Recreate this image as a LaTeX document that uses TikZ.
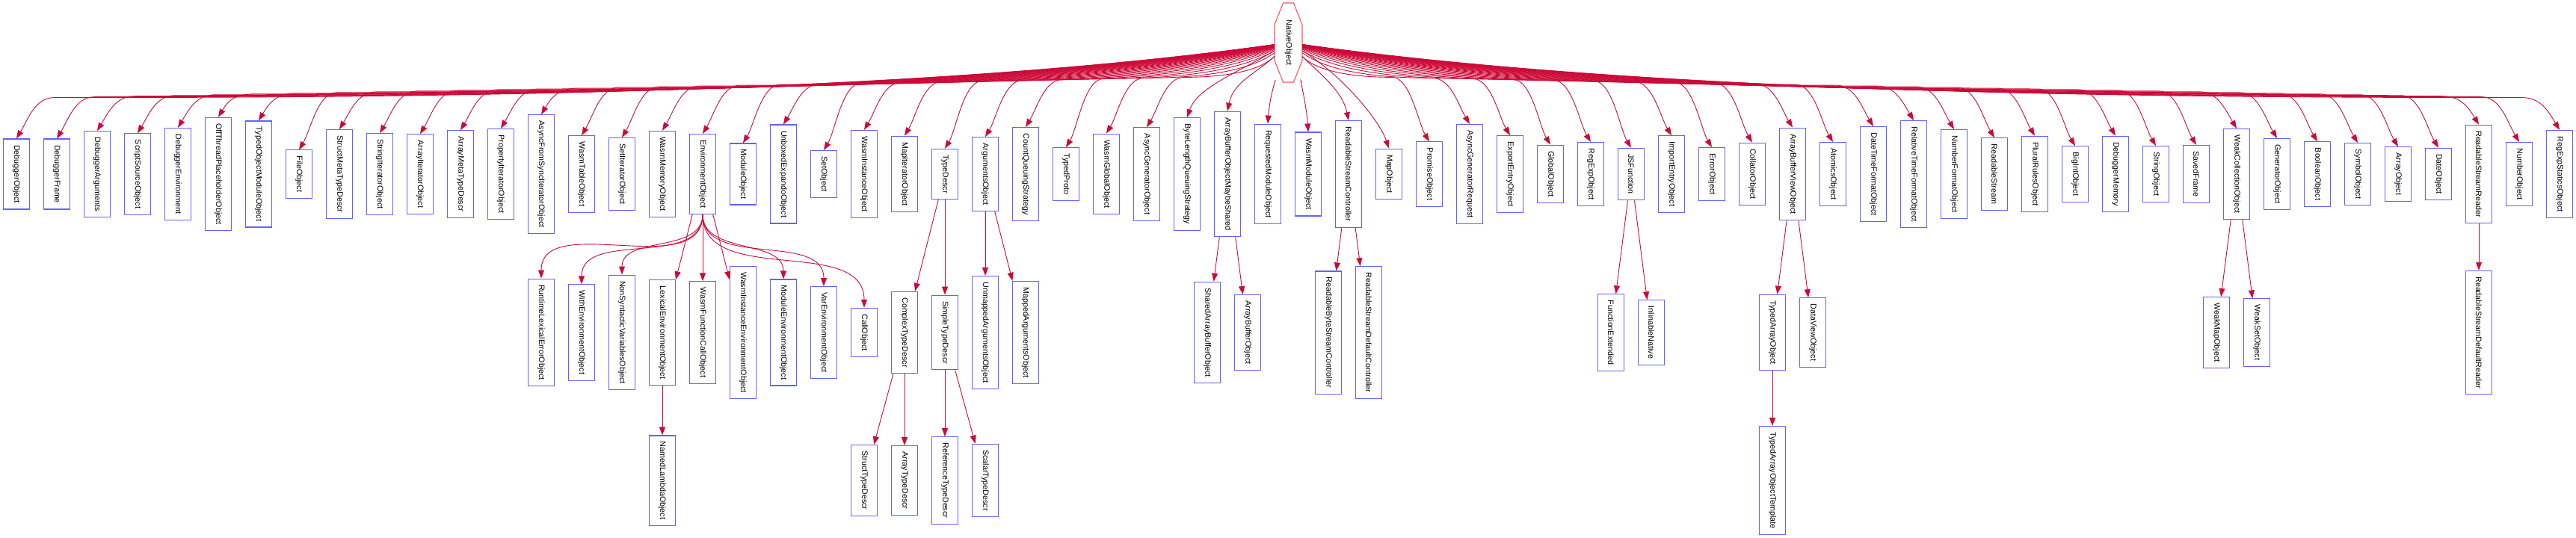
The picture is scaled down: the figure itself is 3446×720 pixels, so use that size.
\documentclass[tikz,border=0pt]{standalone}
\usepackage{fontspec}
\setmainfont{Liberation Sans}
\usepackage{tikz}
\usetikzlibrary{arrows.meta}
\definecolor{boxblue}{RGB}{98,98,255}
\definecolor{edgered}{RGB}{205,10,55}
\definecolor{octred}{RGB}{255,85,85}

\def\tops{DebuggerObject, DebuggerFrame, DebuggerArguments, ScriptSourceObject, DebuggerEnvironment, OffThreadPlaceholderObject, TypedObjectModuleObject, FileObject,
	StructMetaTypeDescr, StringIteratorObject, ArrayIteratorObject, ArrayMetaTypeDescr, PropertyIteratorObject, AsyncFromSyncIteratorObject, WasmTableObject, SetIteratorObject,
	WasmMemoryObject, EnvironmentObject, ModuleObject, UnboxedExpandoObject, SetObject, WasmInstanceObject, MapIteratorObject, TypeDescr,
	ArgumentsObject, CountQueuingStrategy, TypedProto, WasmGlobalObject, AsyncGeneratorObject, ByteLengthQueuingStrategy, ArrayBufferObjectMaybeShared, RequestedModuleObject,
	WasmModuleObject, ReadableStreamController, MapObject, PromiseObject, AsyncGeneratorRequest, ExportEntryObject, GlobalObject, RegExpObject,
	JSFunction, ImportEntryObject, ErrorObject, CollatorObject, ArrayBufferViewObject, AtomicsObject, DateTimeFormatObject, RelativeTimeFormatObject,
	NumberFormatObject, ReadableStream, PluralRulesObject, BigIntObject, DebuggerMemory, StringObject, SavedFrame, WeakCollectionObject,
	GeneratorObject, BooleanObject, SymbolObject, ArrayObject, DateObject, ReadableStreamReader, NumberObject, RegExpStaticsObject}

\begin{document}
\begin{tikzpicture}[
		x=1pt, y=1pt
		,every node/.append style={font=\fontsize{10.7}{12}\selectfont, rotate=-90, inner xsep=8pt, inner ysep=0pt}
		,cls/.style={draw=boxblue, line width=1.1pt, fill=white, minimum height=35pt}
		,e/.style={draw=edgered, line width=0.9pt, -{Triangle[length=11pt,width=8pt]}}
		,oct/.style={draw=octred, line width=1.1pt}
	]
	\useasboundingbox (0,0) rectangle (3446,-720);
	\node [minimum width=106pt, minimum height=37pt] (root) at (1723.5,-57) {NativeObject};
	\draw [oct, shift={(root.center)}] (-7,53) -- (7,53) -- (18.5,24) -- (18.5,-24) -- (7,-53) -- (-7,-53) -- (-18.5,-24) -- (-18.5,24) -- cycle;
	\foreach \n [count=\i from 0] in \tops {
		\pgfmathsetmacro\x{22+54*\i}
		\node [cls] (\n) at (\x,-233) {\n};
	}
	\foreach \n [count=\i from 0] in \tops {
		\pgfmathsetmacro\x{22+54*\i}
		\pgfmathsetmacro\dx{\x-1723.5}
		\pgfmathsetmacro\s{\dx<0 ? 1 : -1}
		\pgfmathsetmacro\adx{abs(\dx)}
		\ifdim \adx pt<150pt
			\pgfmathsetmacro\xa{1723.5+0.5*\dx}
			\pgfmathsetmacro\xd{-0.1*\dx}
			\draw [e] (root) .. controls (\xa,-97) and +(\xd,40) .. (\n.west);
		\else
			\pgfmathsetmacro\xw{\x+50*\s}
			\pgfmathsetmacro\yw{-100-0.018*\adx}
			\pgfmathsetmacro\xa{1723.5+0.3*(\xw-1723.5)}
			\pgfmathsetmacro\xb{\xw+0.3*(1723.5-\xw)}
			\pgfmathsetmacro\xc{\xw-25*\s}
			\pgfmathsetmacro\xd{15*\s}
			\draw [e] (root) .. controls (\xa,\yw+5) and (\xb,\yw) .. (\xw,\yw) .. controls (\xc,\yw) and +(\xd,25) .. (\n.west);
		\fi
	}
	\foreach \n/\x/\y in {RuntimeLexicalErrorObject/724/445, WithEnvironmentObject/778/445, NonSyntacticVariablesObject/832/445,
		LexicalEnvironmentObject/886/445, WasmFunctionCallObject/940/445, WasmInstanceEnvironmentObject/994/445,
		ModuleEnvironmentObject/1048/445, VarEnvironmentObject/1102/445, CallObject/1156/445,
		ComplexTypeDescr/1210/445, SimpleTypeDescr/1264/445, UnmappedArgumentsObject/1318/445, MappedArgumentsObject/1372/445,
		SharedArrayBufferObject/1615/445, ArrayBufferObject/1669/445,
		ReadableByteStreamController/1777/445, ReadableStreamDefaultController/1831/445,
		FunctionExtended/2155/445, InlinableNative/2209/445, TypedArrayObject/2371/445, DataViewObject/2425/445,
		WeakMapObject/2965/445, WeakSetObject/3019/445, ReadableStreamDefaultReader/3316/445,
		NamedLambdaObject/886/643, StructTypeDescr/1156/643, ArrayTypeDescr/1210/643, ReferenceTypeDescr/1264/643,
		ScalarTypeDescr/1318/643, TypedArrayObjectTemplate/2371/643}
		\node [cls] (\n) at (\x,-\y) {\n};
	\foreach \a/\b in {EnvironmentObject/LexicalEnvironmentObject, EnvironmentObject/WasmFunctionCallObject, EnvironmentObject/WasmInstanceEnvironmentObject,
		TypeDescr/ComplexTypeDescr, TypeDescr/SimpleTypeDescr, ArgumentsObject/UnmappedArgumentsObject, ArgumentsObject/MappedArgumentsObject,
		ArrayBufferObjectMaybeShared/SharedArrayBufferObject, ArrayBufferObjectMaybeShared/ArrayBufferObject,
		ReadableStreamController/ReadableByteStreamController, ReadableStreamController/ReadableStreamDefaultController,
		JSFunction/FunctionExtended, JSFunction/InlinableNative, ArrayBufferViewObject/TypedArrayObject, ArrayBufferViewObject/DataViewObject,
		WeakCollectionObject/WeakMapObject, WeakCollectionObject/WeakSetObject, ReadableStreamReader/ReadableStreamDefaultReader,
		LexicalEnvironmentObject/NamedLambdaObject, ComplexTypeDescr/StructTypeDescr, ComplexTypeDescr/ArrayTypeDescr,
		SimpleTypeDescr/ReferenceTypeDescr, SimpleTypeDescr/ScalarTypeDescr, TypedArrayObject/TypedArrayObjectTemplate}
		\draw [e] (\a) -- (\b);
	\foreach \b in {RuntimeLexicalErrorObject, WithEnvironmentObject, NonSyntacticVariablesObject, ModuleEnvironmentObject, VarEnvironmentObject, CallObject}
		\draw [e] (EnvironmentObject.east) to [out=-90, in=90] (\b.west);
\end{tikzpicture}
\end{document}
